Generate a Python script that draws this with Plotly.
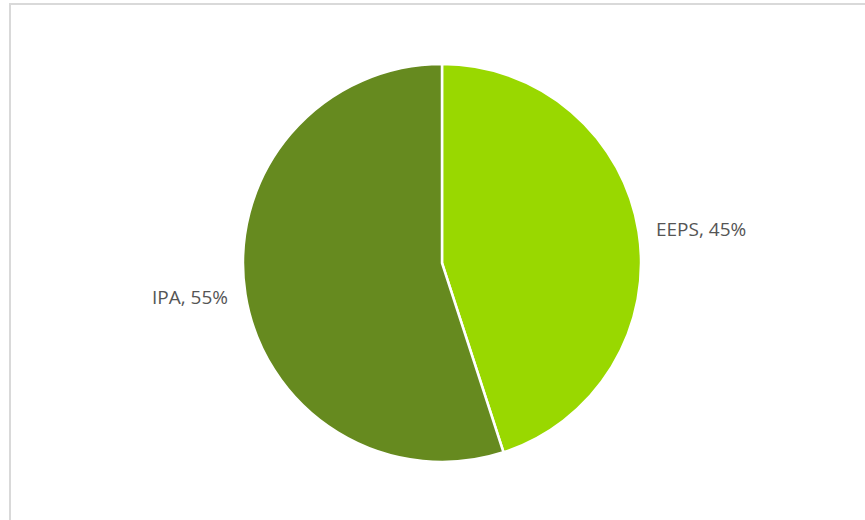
import math
import plotly.graph_objects as go

labels = ["EEPS", "IPA"]
values = [45, 55]
colors = ["#99D800", "#668A1F"]

W, H = 865, 520
cx, cy, r = 442, 263, 199

fig = go.Figure(go.Pie(
    labels=labels,
    values=values,
    sort=False,
    direction="clockwise",
    rotation=0,
    marker=dict(colors=colors, line=dict(color="white", width=2.5)),
    textinfo="none",
    domain=dict(x=[(cx - r) / W, (cx + r) / W], y=[1 - (cy + r) / H, 1 - (cy - r) / H]),
    showlegend=False,
    hoverinfo="label+percent",
))

# data labels placed outside each slice at its mid-angle
total = sum(values)
annotations = []
cum = 0
for lab, v in zip(labels, values):
    mid = (cum + v / 2) / total * 2 * math.pi
    cum += v
    rr = r + 16
    x = cx + rr * math.sin(mid)
    y = cy - rr * math.cos(mid)
    annotations.append(dict(
        x=x / W, y=1 - y / H, xref="paper", yref="paper",
        text=f"{lab}, {round(v / total * 100)}%",
        showarrow=False,
        xanchor="left" if math.sin(mid) >= 0 else "right",
        yanchor="middle",
        font=dict(family="Open Sans, sans-serif", size=19, color="#555555"),
    ))

fig.update_layout(
    width=W, height=H,
    margin=dict(l=0, r=0, t=0, b=0),
    paper_bgcolor="white",
    plot_bgcolor="white",
    annotations=annotations,
    shapes=[dict(type="rect", xref="paper", yref="paper",
                 x0=10 / W, x1=1.05, y0=-0.05, y1=1 - 4 / H,
                 line=dict(color="#D9D9D9", width=2), fillcolor="rgba(0,0,0,0)", layer="below")],
)

fig.write_html("out.html")
